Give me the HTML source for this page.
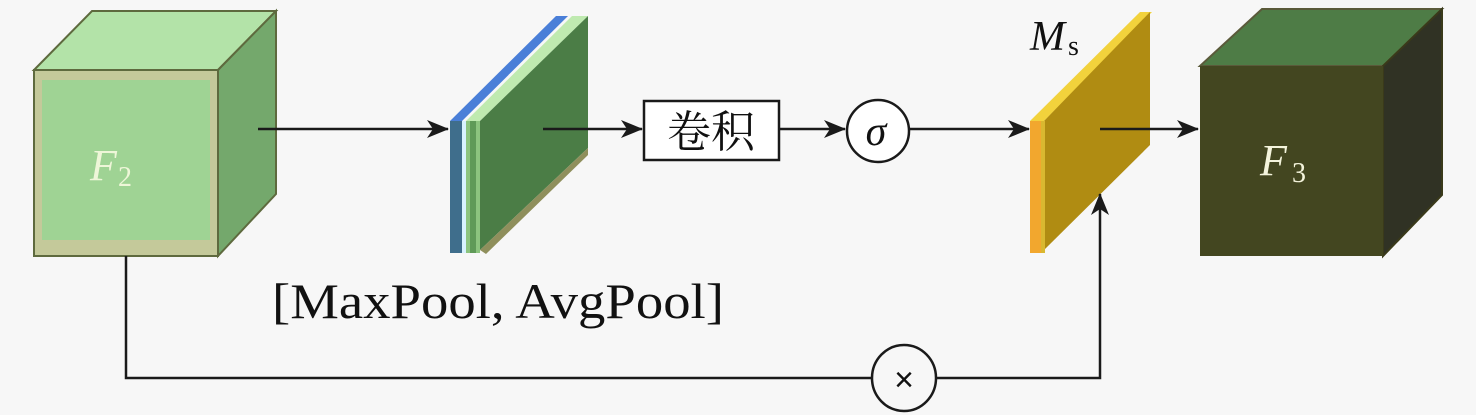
<!DOCTYPE html>
<html><head><meta charset="utf-8"><style>
html,body{margin:0;padding:0;background:#f7f7f7;}
svg{display:block;}
</style></head><body>
<svg width="1476" height="415" viewBox="0 0 1476 415" xmlns="http://www.w3.org/2000/svg">
<defs>
<marker id="ah" markerWidth="22" markerHeight="18" refX="21" refY="9" orient="auto" markerUnits="userSpaceOnUse">
<path d="M0,0 L22,9 L0,18 L6,9 Z" fill="#1a1a1a"/>
</marker>
</defs>
<rect width="1476" height="415" fill="#f7f7f7"/>

<!-- F2 cube -->
<polygon points="34,70 92,11 276,11 218,70" fill="#b3e3a8" stroke="#5e6a3e" stroke-width="2"/>
<polygon points="218,70 276,11 276,194 218,256" fill="#74a86c" stroke="#5e6a3e" stroke-width="2"/>
<rect x="34" y="70" width="184" height="186" fill="#c4c99a" stroke="#5e6a3e" stroke-width="2"/>
<rect x="42" y="80" width="168" height="160" fill="#9fd394"/>
<text x="90" y="180" font-family="Liberation Serif, serif" font-style="italic" font-size="44" fill="#eef6d8">F</text>
<text x="118" y="186" font-family="Liberation Serif, serif" font-size="28" fill="#eef6d8">2</text>

<!-- slab 1 -->
<polygon points="450,121 556,16 568,16 462,121" fill="#4a7fd8"/>
<polygon points="466,121 572,16 588,16 480,121" fill="#bfeab0"/>
<polygon points="480,250 588,148 588,16 480,121" fill="#4b7d46"/>
<polygon points="480,250 588,148 588,155 486,254" fill="#8f8f5c"/>
<rect x="450" y="121" width="12" height="132" fill="#3f6e8c"/>
<rect x="462" y="121" width="4" height="132" fill="#d8f2ff"/>
<rect x="466" y="121" width="14" height="132" fill="#8cc47f"/>
<rect x="470" y="121" width="6" height="132" fill="#5f9a58"/>

<!-- arrows top row -->
<line x1="258" y1="129" x2="448" y2="129" stroke="#1a1a1a" stroke-width="2.5" marker-end="url(#ah)"/>
<line x1="543" y1="129" x2="642" y2="129" stroke="#1a1a1a" stroke-width="2.5" marker-end="url(#ah)"/>
<rect x="644" y="101" width="135" height="59" fill="#fff" stroke="#1a1a1a" stroke-width="2.5"/>
<text x="711" y="147" text-anchor="middle" font-family="Liberation Serif, 'Noto Serif CJK SC', serif" font-size="44" fill="#111">卷积</text>
<line x1="779" y1="129" x2="845" y2="129" stroke="#1a1a1a" stroke-width="2.5" marker-end="url(#ah)"/>
<circle cx="878" cy="131" r="31" fill="#fff" stroke="#1a1a1a" stroke-width="2.5"/>
<text x="876" y="145" text-anchor="middle" font-family="Liberation Serif, serif" font-style="italic" font-size="42" fill="#111">σ</text>
<line x1="909" y1="129" x2="1029" y2="129" stroke="#1a1a1a" stroke-width="2.5" marker-end="url(#ah)"/>

<!-- Ms slab -->
<polygon points="1030,121 1140,12 1152,12 1044,121" fill="#f2d23c"/>
<polygon points="1044,250 1150,145 1150,12 1044,121" fill="#b08c12"/>
<rect x="1030" y="121" width="14" height="132" fill="#f2a72e"/>
<rect x="1041" y="121" width="4" height="132" fill="#d9b830"/>
<text x="1030" y="50" font-family="Liberation Serif, serif" font-style="italic" font-size="42" fill="#111">M</text>
<text x="1068" y="55" font-family="Liberation Serif, serif" font-size="28" fill="#111">s</text>

<line x1="1100" y1="129" x2="1198" y2="129" stroke="#1a1a1a" stroke-width="2.5" marker-end="url(#ah)"/>

<!-- F3 cube -->
<polygon points="1200,66 1262,9 1442,9 1383,66" fill="#4e7c46" stroke="#5a5a3a" stroke-width="2"/>
<polygon points="1383,66 1442,9 1442,195 1383,256" fill="#303224" stroke="#3a3a1a" stroke-width="2"/>
<rect x="1200" y="66" width="183" height="190" fill="#434620"/>
<text x="1260" y="175" font-family="Liberation Serif, serif" font-style="italic" font-size="44" fill="#f4f4dc">F</text>
<text x="1292" y="182" font-family="Liberation Serif, serif" font-size="28" fill="#f4f4dc">3</text>

<!-- bottom path -->
<polyline points="126,256 126,378 872,378" fill="none" stroke="#1a1a1a" stroke-width="2.5"/>
<polyline points="936,378 1100,378 1100,194" fill="none" stroke="#1a1a1a" stroke-width="2.5" marker-end="url(#ah)"/>
<ellipse cx="904" cy="378" rx="32" ry="33" fill="#f7f7f7" stroke="#1a1a1a" stroke-width="2.5"/>
<text x="904" y="391" text-anchor="middle" font-family="Liberation Sans, sans-serif" font-size="34" fill="#111">×</text>

<text x="272" y="318" font-family="Liberation Serif, serif" font-size="50" fill="#111" textLength="452" lengthAdjust="spacingAndGlyphs">[MaxPool, AvgPool]</text>
</svg>
</body></html>
